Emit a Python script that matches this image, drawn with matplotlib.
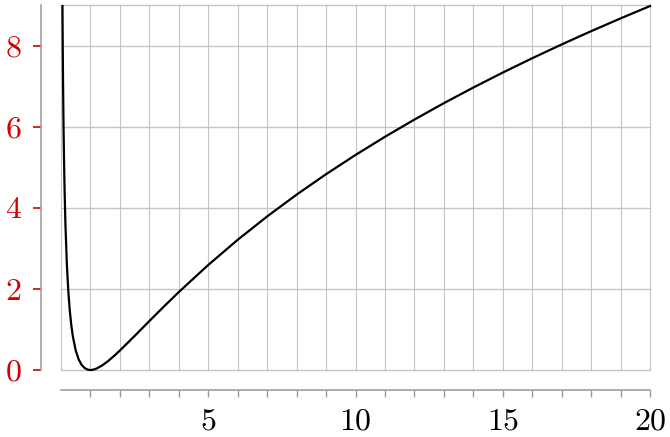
import matplotlib
matplotlib.use("Agg")
import matplotlib.pyplot as plt
from matplotlib.ticker import FixedLocator, NullFormatter

plt.rcParams['mathtext.fontset'] = 'cm'
plt.rcParams['font.family'] = 'serif'
plt.rcParams['font.serif'] = ['cmr10', 'DejaVu Serif']
plt.rcParams['axes.formatter.use_mathtext'] = True

x_vals = [0.05, 0.06, 0.07, 0.08, 0.09, 0.10, 0.12, 0.15, 0.20, 0.25, 0.30, 0.35, 0.40,
          0.50, 0.60, 0.70, 0.80, 0.90, 0.95, 1.00, 1.10, 1.20, 1.40, 1.60, 1.80, 2.00,
          2.50, 3.0, 3.5, 4.0, 5.0, 6.0, 7.0, 8.0, 9.0, 10.0, 11.0, 12.0, 13.0, 14.0,
          15.0, 16.0, 17.0, 18.0, 19.0, 20.0]
y_vals = [8.974, 7.915, 7.072, 6.379, 5.798, 5.302, 4.496, 3.599, 2.590, 1.922, 1.450, 1.102, 0.840,
          0.480, 0.261, 0.127, 0.0498, 0.0111, 0.0026, 0.0, 0.0091, 0.0332, 0.1132, 0.2209, 0.3455, 0.4805,
          0.8396, 1.2069, 1.5694, 1.9218, 2.5903, 3.2104, 3.7866, 4.3241, 4.8278, 5.3019, 5.7499, 6.1747, 6.5789, 6.9646,
          7.3337, 7.6872, 8.0272, 8.3543, 8.6697, 8.9744]

x_major = [5, 10, 15, 20]
x_minor = list(range(0, 21))
y_major = [0, 2, 4, 6, 8]
y_grid = [0, 2, 4, 6, 8, 9]

W, H = 670, 437
fig = plt.figure(figsize=(W / 100, H / 100), dpi=100)
ax = fig.add_axes([61 / W, (H - 370) / H, (650 - 61) / W, (370 - 5) / H])

grid_col = '#c4c4c4'
for xv in x_minor:
    ax.axvline(xv, color=grid_col, lw=0.8, zorder=1, clip_on=False)
for yv in y_grid:
    ax.axhline(yv, color=grid_col, lw=1.0, zorder=1, clip_on=False)

ax.plot(x_vals, y_vals, color='black', lw=1.6, zorder=3, clip_on=False)

ax.set_xlim(0, 20)
ax.set_ylim(0, 9)

for s in ['top', 'right']:
    ax.spines[s].set_visible(False)
ax.spines['left'].set_position(('outward', 14.4))
ax.spines['bottom'].set_position(('outward', 14.4))
ax.spines['left'].set_color('#999999')
ax.spines['bottom'].set_color('#999999')
ax.spines['left'].set_linewidth(1.1)
ax.spines['bottom'].set_linewidth(1.1)

ax.xaxis.set_major_locator(FixedLocator(x_major))
ax.xaxis.set_minor_locator(FixedLocator([v for v in x_minor if v not in x_major and v != 0]))
ax.xaxis.set_minor_formatter(NullFormatter())
ax.set_xticklabels(['$%d$' % v for v in x_major])
ax.yaxis.set_major_locator(FixedLocator(y_major))
ax.set_yticklabels(['$%d$' % v for v in y_major])

red = '#d20000'
ax.tick_params(axis='x', which='both', direction='out', length=5, width=1.0,
               color='#999999', labelsize=23, pad=8, labelcolor='black')
ax.tick_params(axis='y', which='major', direction='out', length=6, width=1.2,
               color=red, labelcolor=red, labelsize=23, pad=8)

fig.savefig('out.png', dpi=100)
